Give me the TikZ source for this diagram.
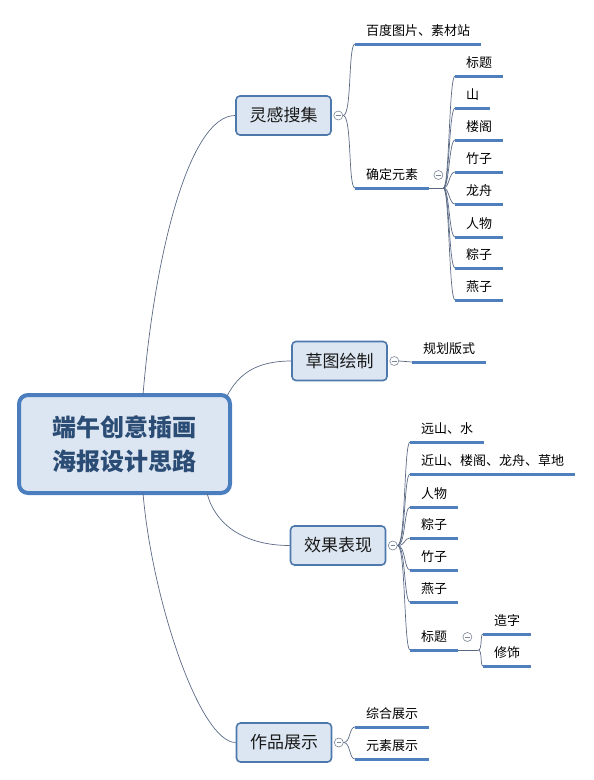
\documentclass[tikz,border=0pt]{standalone}
\usepackage{fontspec}
\setmainfont{Noto Sans CJK SC}
\definecolor{connc}{HTML}{5A6A86}
\definecolor{ulc}{HTML}{4F7FBC}
\definecolor{boxc}{HTML}{4C78AC}
\definecolor{boxfill}{HTML}{DCE6F2}
\definecolor{rootc}{HTML}{4A7EBF}
\definecolor{roottext}{HTML}{2B4C74}
\definecolor{foldc}{HTML}{7A8698}
\begin{document}
\begin{tikzpicture}[x=1pt,y=-1pt,
  conn/.style={draw=connc, line width=0.7pt},
  ulbar/.style={fill=ulc, draw=none},
  leaf/.style={anchor=south west, inner xsep=11pt, inner ysep=7pt,
    font=\fontsize{13}{15}\selectfont, text=black},
  topic/.style={draw=boxc, line width=1.6pt, fill=boxfill, rounded corners=4pt,
    minimum width=95pt, minimum height=39pt, inner sep=0pt,
    font=\fontsize{17}{20}\selectfont, text=black!90},
  rootbox/.style={draw=rootc, line width=4pt, fill=boxfill, rounded corners=9pt,
    minimum width=211pt, minimum height=98pt, inner sep=0pt, align=center,
    font=\bfseries\fontsize{24}{34}\selectfont, text=roottext},
  fold/.style={circle, draw=foldc, fill=white, line width=0.6pt, minimum size=9pt, inner sep=0pt,
    path picture={\draw[foldc, line width=0.6pt] ([xshift=-2.3pt]path picture bounding box.center) -- ([xshift=2.3pt]path picture bounding box.center);}}
]
\useasboundingbox (0,0) rectangle (594,780);

% root
\node[rootbox] (root) at (124.5,444) {端午创意插画\\海报设计思路};

% level 1
\node[topic] (t1) at (283.5,115.5) {灵感搜集};
\node[topic] (t2) at (339.5,361) {草图绘制};
\node[topic] (t3) at (338,545.5) {效果表现};
\node[topic] (t4) at (284,742.5) {作品展示};

\coordinate (r1) at (143,395);
\coordinate (r2) at (227,396);
\coordinate (r3) at (207,493);
\coordinate (r4) at (143,493);
\draw[conn] (r1) .. controls (155,250) and (190,115.5) .. (t1.west);
\draw[conn] (r2) .. controls (238,375) and (255,361) .. (t2.west);
\draw[conn] (r3) .. controls (215,525) and (245,545.5) .. (t3.west);
\draw[conn] (r4) .. controls (152,600) and (200,742.5) .. (t4.west);

% folds
\node[fold] (f1) at ([xshift=6.5pt]t1.east) {};
\node[fold] (f2) at ([xshift=6.5pt]t2.east) {};
\node[fold] (f3) at ([xshift=6.5pt]t3.east) {};
\node[fold] (f4) at ([xshift=6.5pt]t4.east) {};

% 灵感搜集
\node[leaf] (a1) at (355,44) {百度图片、素材站};
\node[leaf] (a2) at (355,188) {确定元素};
\foreach \n in {a1,a2}
  \draw[conn] (f1.east) .. controls +(9,0) and +(-7,0) .. (\n.south west);

\draw[conn] (a2.south east) -- ++(14,0) coordinate (b2);
\node[fold] (f5) at ([shift={(9pt,13pt)}]a2.south east) {};
\node[leaf] (e1) at (455,76) {标题};
\node[leaf] (e2) at (455,108) {山};
\node[leaf] (e3) at (455,140) {楼阁};
\node[leaf] (e4) at (455,172) {竹子};
\node[leaf] (e5) at (455,204) {龙舟};
\node[leaf] (e6) at (455,237) {人物};
\node[leaf] (e7) at (455,268) {粽子};
\node[leaf] (e8) at (455,300) {燕子};
\foreach \n in {e1,e2,e3,e4,e5,e6,e7,e8}
  \draw[conn] (b2) .. controls +(6,0) and +(-6,0) .. (\n.south west);

% 草图绘制
\node[leaf] (s1) at (412,362) {规划版式};
\draw[conn] (f2.east) -- (s1.south west);

% 效果表现
\node[leaf] (x1) at (410,442) {远山、水};
\node[leaf] (x2) at (410,474) {近山、楼阁、龙舟、草地};
\node[leaf] (x3) at (410,507) {人物};
\node[leaf] (x4) at (410,538) {粽子};
\node[leaf] (x5) at (410,570) {竹子};
\node[leaf] (x6) at (410,602) {燕子};
\node[leaf] (x7) at (410,650) {标题};
\foreach \n in {x1,x2,x3,x4,x5,x6,x7}
  \draw[conn] (f3.east) .. controls +(8,0) and +(-6,0) .. (\n.south west);

\draw[conn] (x7.south east) -- ++(20,0) coordinate (b7);
\node[fold] (f6) at ([shift={(9pt,13pt)}]x7.south east) {};
\node[leaf] (y1) at (483,634) {造字};
\node[leaf] (y2) at (483,666) {修饰};
\foreach \n in {y1,y2}
  \draw[conn] (b7) .. controls +(4,0) and +(-3,0) .. (\n.south west);

% 作品展示
\node[leaf] (w1) at (355,727) {综合展示};
\node[leaf] (w2) at (355,759) {元素展示};
\foreach \n in {w1,w2}
  \draw[conn] (f4.east) .. controls +(7,0) and +(-6,0) .. (\n.south west);

% underlines of the leaf topics
\foreach \n in {a1,a2,e1,e2,e3,e4,e5,e6,e7,e8,s1,x1,x2,x3,x4,x5,x6,x7,y1,y2,w1,w2}
  \path[ulbar] ([yshift=-1.5pt]\n.south west) rectangle ([yshift=1.5pt]\n.south east);
\end{tikzpicture}
\end{document}
